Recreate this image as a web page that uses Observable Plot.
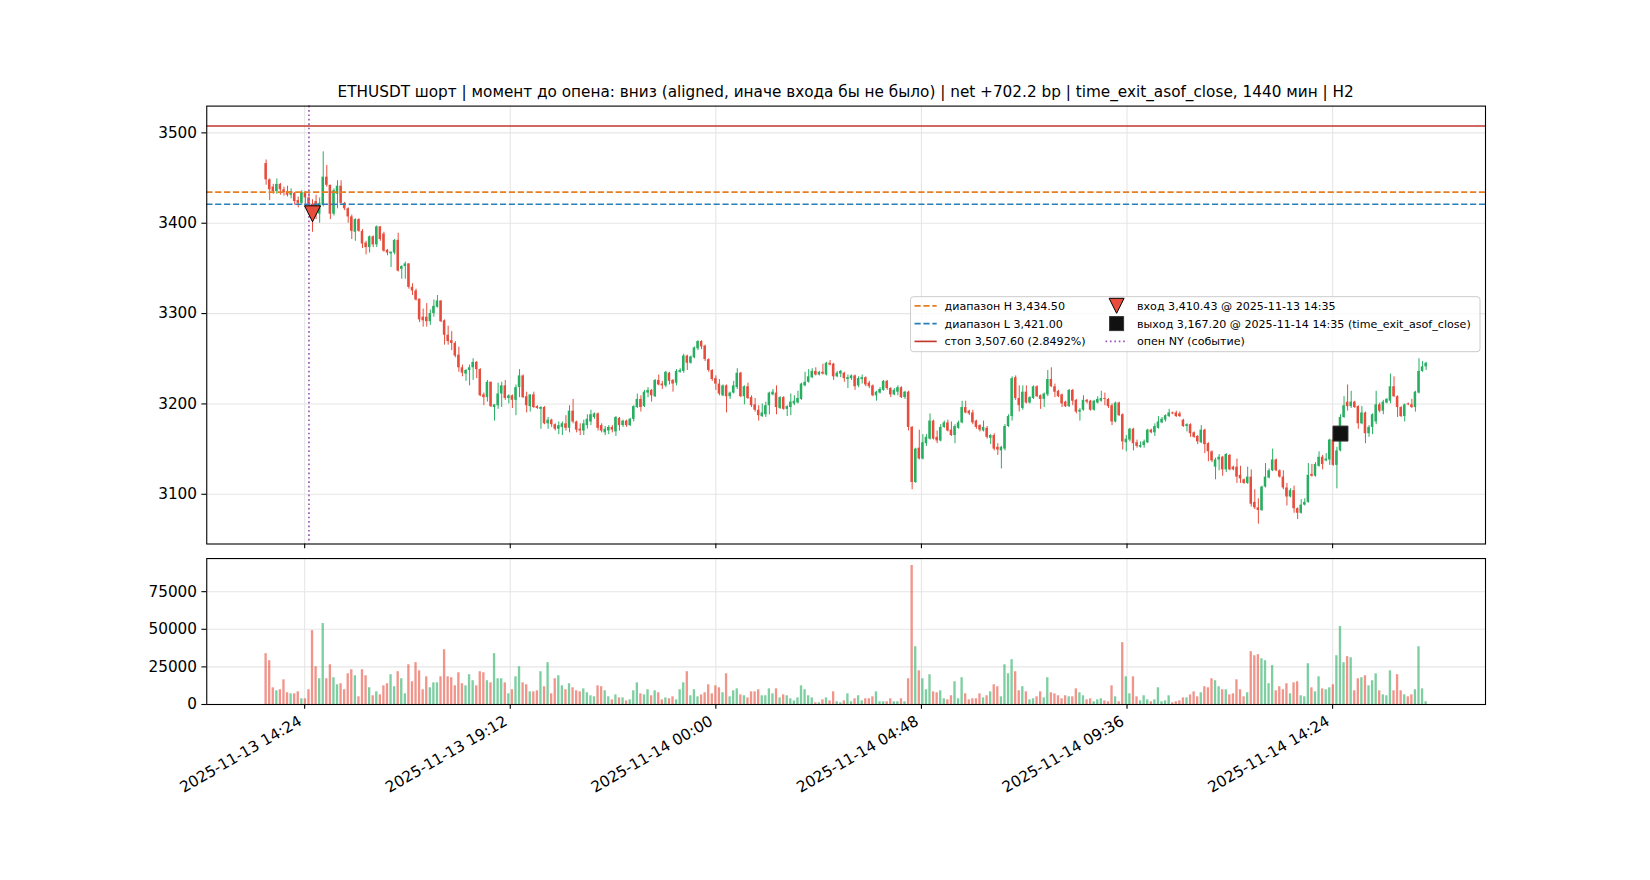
<!DOCTYPE html>
<html><head><meta charset="utf-8">
<script src="https://cdn.jsdelivr.net/npm/d3@7"></script>
<script src="https://cdn.jsdelivr.net/npm/@observablehq/plot@0.6"></script>
<style>
html,body{margin:0;padding:0;background:#fff;overflow:hidden;}
#fig{position:relative;width:1650px;height:880px;overflow:hidden;background:#fff;font-family:"DejaVu Sans",sans-serif;}
#fig > svg{position:absolute;left:0;}
</style></head><body><div id="fig"></div>
<script>
// ---------------- data ----------------
const titleText = "ETHUSDT шорт | момент до опена: вниз (aligned, иначе входа бы не было) | net +702.2 bp | time_exit_asof_close, 1440 мин | H2";
const startTime = "2025-11-13 13:30";   // first 5-minute candle
const candleMinutes = 5;
const open = [
3466,3448,3440,3435,3443,3437,3435,3431,3433,3425,
3422,3434,3428,3421,3424,3410,3420,3451,3442,3410,
3432,3441,3422,3416,3407,3390,3404,3391,3378,3373,
3385,3376,3396,3388,3370,3366,3367,3381,3349,3352,
3355,3329,3325,3316,3296,3296,3291,3300,3307,3314,
3292,3276,3270,3267,3254,3240,3233,3237,3240,3246,
3238,3210,3207,3224,3196,3198,3211,3220,3206,3209,
3204,3218,3231,3208,3197,3210,3197,3194,3196,3178,
3182,3177,3172,3174,3178,3173,3192,3180,3172,3170,
3176,3180,3185,3189,3176,3168,3170,3174,3169,3184,
3176,3181,3176,3183,3196,3205,3197,3212,3215,3208,
3226,3222,3220,3234,3226,3223,3235,3236,3253,3245,
3251,3261,3269,3264,3249,3237,3228,3222,3209,3220,
3208,3212,3218,3234,3208,3219,3207,3199,3193,3186,
3188,3198,3210,3212,3195,3207,3194,3196,3200,3201,
3205,3220,3224,3229,3236,3232,3235,3232,3245,3244,
3230,3233,3234,3227,3228,3231,3220,3227,3229,3223,
3220,3209,3212,3215,3225,3217,3210,3213,3218,3207,
3213,3174,3113,3151,3139,3156,3161,3181,3163,3159,
3174,3179,3171,3165,3173,3179,3196,3192,3190,3181,
3176,3170,3173,3162,3165,3152,3148,3150,3175,3186,
3229,3206,3195,3213,3201,3206,3219,3209,3205,3210,
3227,3219,3214,3210,3202,3197,3215,3204,3191,3193,
3204,3203,3193,3201,3203,3206,3205,3198,3180,3201,
3188,3157,3160,3172,3157,3152,3154,3157,3171,3168,
3173,3179,3182,3186,3190,3190,3189,3182,3175,3177,
3168,3164,3157,3171,3156,3147,3130,3138,3141,3127,
3143,3130,3130,3121,3116,3112,3119,3091,3085,3082,
3108,3118,3126,3138,3126,3119,3107,3097,3104,3084,
3079,3088,3091,3122,3120,3131,3141,3137,3138,3160,
3132,3148,3185,3202,3197,3202,3197,3178,3190,3167,
3174,3180,3199,3192,3201,3203,3219,3208,3196,3186,
3200,3199,3196,3212,3236,3241];
const high = [
3470,3449,3443,3449,3444,3440,3441,3438,3434,3429,
3436,3435,3434,3426,3431,3428,3479,3464,3442,3438,
3447,3447,3423,3417,3409,3405,3405,3393,3380,3386,
3386,3397,3396,3390,3371,3368,3382,3389,3353,3357,
3355,3333,3327,3316,3305,3311,3304,3315,3320,3314,
3293,3286,3280,3269,3263,3243,3238,3243,3250,3247,
3239,3212,3226,3224,3199,3223,3224,3226,3210,3210,
3221,3238,3232,3213,3210,3213,3198,3197,3197,3185,
3183,3178,3180,3180,3187,3198,3205,3181,3178,3182,
3188,3193,3190,3190,3178,3175,3176,3176,3186,3185,
3182,3182,3184,3198,3211,3209,3215,3218,3216,3227,
3232,3225,3236,3235,3227,3238,3239,3255,3254,3253,
3263,3270,3270,3265,3250,3238,3231,3227,3221,3221,
3213,3225,3239,3235,3220,3223,3209,3206,3198,3200,
3202,3213,3216,3220,3208,3208,3198,3211,3209,3214,
3223,3235,3238,3239,3240,3236,3244,3246,3248,3245,
3236,3237,3235,3232,3232,3232,3230,3232,3230,3225,
3221,3214,3218,3226,3226,3218,3217,3220,3219,3214,
3214,3175,3151,3171,3166,3166,3189,3182,3170,3177,
3181,3182,3180,3177,3181,3203,3203,3193,3193,3182,
3177,3181,3175,3166,3167,3156,3153,3177,3188,3230,
3231,3220,3220,3220,3208,3220,3220,3210,3212,3237,
3240,3222,3215,3211,3203,3216,3216,3205,3195,3209,
3205,3204,3204,3208,3214,3212,3206,3200,3202,3202,
3189,3165,3173,3173,3160,3158,3160,3172,3172,3178,
3186,3185,3188,3194,3191,3192,3191,3183,3178,3178,
3169,3165,3176,3172,3157,3148,3140,3144,3142,3145,
3144,3131,3139,3131,3117,3130,3127,3105,3095,3109,
3134,3128,3150,3139,3127,3126,3112,3106,3109,3085,
3094,3095,3134,3133,3135,3147,3143,3145,3161,3166,
3152,3188,3208,3221,3214,3203,3198,3197,3191,3176,
3189,3214,3201,3204,3206,3233,3230,3209,3197,3200,
3201,3205,3214,3250,3247,3246];
const low = [
3442,3425,3432,3432,3431,3430,3429,3427,3420,3417,
3420,3418,3416,3390,3404,3400,3418,3440,3404,3408,
3416,3420,3414,3400,3382,3380,3390,3372,3365,3367,
3373,3373,3380,3368,3364,3351,3365,3346,3338,3338,
3327,3320,3314,3290,3285,3285,3287,3296,3306,3290,
3265,3265,3259,3251,3235,3230,3225,3220,3226,3228,
3208,3198,3202,3196,3181,3194,3196,3204,3200,3195,
3187,3207,3206,3190,3191,3195,3194,3172,3177,3172,
3174,3170,3166,3165,3170,3168,3178,3168,3165,3165,
3172,3176,3183,3170,3168,3165,3166,3168,3164,3170,
3174,3174,3175,3180,3195,3191,3196,3207,3202,3207,
3220,3216,3218,3221,3213,3220,3234,3234,3237,3244,
3250,3259,3260,3247,3235,3225,3215,3209,3208,3190,
3205,3211,3216,3207,3199,3205,3196,3191,3181,3185,
3185,3188,3209,3188,3194,3193,3186,3187,3198,3200,
3204,3219,3223,3228,3231,3231,3232,3231,3242,3226,
3229,3229,3224,3217,3226,3215,3218,3222,3219,3217,
3208,3203,3211,3214,3215,3207,3209,3209,3206,3205,
3170,3105,3112,3138,3138,3153,3160,3160,3156,3158,
3173,3169,3164,3156,3172,3178,3189,3187,3177,3172,
3169,3169,3161,3155,3148,3143,3128,3148,3174,3181,
3204,3191,3193,3200,3200,3205,3207,3194,3196,3208,
3218,3207,3207,3196,3196,3196,3198,3189,3181,3192,
3200,3192,3192,3200,3202,3198,3195,3176,3179,3186,
3149,3147,3158,3148,3151,3151,3151,3156,3167,3164,
3172,3178,3180,3185,3188,3185,3185,3174,3169,3163,
3162,3155,3156,3145,3136,3135,3116,3126,3120,3124,
3126,3126,3112,3112,3111,3111,3086,3083,3067,3081,
3107,3117,3125,3125,3118,3105,3087,3096,3079,3072,
3078,3087,3090,3119,3119,3130,3127,3136,3132,3131,
3106,3147,3184,3192,3195,3195,3172,3177,3156,3163,
3166,3177,3190,3188,3200,3200,3207,3185,3185,3180,
3198,3195,3191,3211,3235,3237];
const close = [
3448,3437,3435,3443,3437,3434,3431,3435,3424,3422,
3434,3428,3421,3412,3413,3422,3451,3442,3410,3436,
3441,3422,3416,3407,3391,3404,3391,3377,3373,3385,
3376,3396,3382,3369,3367,3368,3381,3347,3352,3355,
3329,3325,3315,3293,3292,3291,3300,3308,3314,3291,
3276,3269,3267,3253,3240,3234,3237,3240,3246,3238,
3209,3207,3224,3197,3199,3211,3220,3206,3209,3204,
3218,3231,3207,3198,3210,3196,3195,3196,3178,3182,
3177,3172,3176,3178,3173,3192,3180,3171,3170,3178,
3183,3188,3189,3173,3170,3172,3174,3171,3185,3176,
3181,3176,3183,3197,3205,3196,3213,3215,3209,3226,
3221,3220,3235,3225,3222,3236,3237,3253,3245,3252,
3262,3269,3263,3249,3237,3227,3222,3211,3220,3208,
3212,3220,3234,3208,3219,3206,3198,3193,3187,3190,
3198,3212,3213,3196,3207,3194,3197,3202,3203,3206,
3222,3224,3230,3236,3232,3235,3233,3245,3243,3230,
3234,3236,3228,3229,3231,3219,3228,3229,3221,3219,
3209,3213,3216,3225,3217,3210,3215,3218,3207,3213,
3174,3113,3150,3139,3157,3163,3181,3161,3159,3174,
3179,3170,3165,3175,3179,3196,3190,3189,3179,3174,
3171,3174,3163,3165,3150,3149,3152,3175,3186,3228,
3206,3198,3213,3201,3207,3219,3208,3205,3211,3227,
3219,3213,3208,3200,3197,3215,3203,3191,3193,3204,
3202,3193,3203,3205,3206,3205,3197,3180,3201,3187,
3158,3161,3172,3156,3153,3154,3158,3171,3168,3175,
3180,3183,3187,3190,3189,3186,3186,3175,3177,3167,
3163,3158,3171,3155,3147,3137,3138,3141,3127,3144,
3127,3127,3119,3117,3112,3119,3089,3085,3082,3108,
3119,3126,3138,3126,3119,3107,3097,3104,3084,3079,
3088,3091,3121,3120,3133,3141,3133,3139,3160,3132,
3148,3185,3198,3197,3202,3196,3178,3190,3167,3174,
3188,3199,3192,3202,3205,3219,3208,3196,3186,3199,
3199,3196,3213,3236,3241,3245];
const volumeK = [ // thousands
33.8,29.1,11.1,9.1,9.8,16.4,7.8,7.1,7.1,8.4,
3.8,3.8,9.8,49.1,25.1,17.1,53.8,17.1,26.4,17.8,
13.1,13.8,9.8,20.4,23.1,19.1,5.1,23.1,19.1,11.1,
5.8,8.4,6.4,12.4,13.8,19.8,11.8,21.8,17.1,7.1,
26.4,15.1,27.8,22.4,9.8,18.4,11.1,14.4,14.4,18.4,
36.4,18.4,17.8,12.4,21.1,13.8,12.4,19.8,15.8,12.4,
21.8,21.1,15.8,14.4,33.8,17.1,17.1,14.4,7.1,9.8,
18.4,25.1,14.4,13.1,8.4,8.4,9.1,21.8,11.8,27.8,
7.1,17.1,19.1,12.4,9.8,13.8,11.1,9.1,8.4,10.4,
7.8,5.8,5.1,12.4,11.8,9.1,5.1,3.1,6.4,4.4,
4.4,2.4,3.1,9.1,14.4,7.1,6.4,9.8,5.8,9.1,
7.8,3.1,4.4,3.8,5.1,3.1,9.8,14.4,21.8,5.8,
9.8,5.1,6.4,7.8,13.1,7.1,12.4,11.1,7.8,20.4,
5.1,9.1,10.4,6.4,5.8,4.4,8.4,8.4,9.8,5.8,
5.8,10.4,7.1,10.4,4.4,6.4,5.8,3.8,2.4,4.4,
12.4,9.8,5.8,4.4,1.1,1.1,3.1,4.4,2.4,8.4,
1.8,1.1,2.4,7.1,1.8,3.8,5.8,2.4,3.8,3.8,
5.1,8.4,1.8,1.8,1.8,3.8,1.8,1.8,3.8,1.8,
17.1,92.4,38.4,22.4,17.1,9.8,19.8,8.4,7.8,9.1,
3.8,3.1,5.8,15.1,3.8,17.8,7.1,3.1,3.8,3.8,
7.1,4.4,5.8,8.4,13.1,11.8,5.1,26.4,20.4,29.8,
21.8,9.1,11.8,8.4,3.1,3.8,5.1,8.4,4.4,17.8,
7.8,7.1,5.8,3.8,5.8,5.1,5.1,10.4,7.8,5.8,
3.1,3.8,1.8,3.1,3.8,2.4,1.8,12.4,5.1,1.8,
41.1,18.4,7.1,18.4,5.1,2.4,5.8,3.1,1.8,3.1,
11.1,1.8,2.4,5.8,1.1,1.8,2.4,4.4,4.4,6.4,
8.4,5.1,7.8,11.8,11.1,17.1,15.8,11.8,9.8,9.8,
6.4,7.1,16.4,9.8,5.1,7.8,35.1,32.4,33.1,30.4,
29.1,13.8,25.8,9.1,11.8,9.8,13.8,7.1,14.4,15.1,
5.8,5.1,27.1,11.1,8.4,18.4,10.4,9.8,11.1,13.1,
32.4,51.8,27.8,31.8,31.1,9.1,17.1,17.8,19.1,12.4,
15.8,20.4,9.1,6.4,5.8,22.4,9.1,19.8,9.1,6.4,
5.1,6.4,9.8,38.4,10.4,1.8];

const xTickLabels = ["2025-11-13 14:24","2025-11-13 19:12","2025-11-14 00:00","2025-11-14 04:48","2025-11-14 09:36","2025-11-14 14:24"];
const priceTicks = [3100, 3200, 3300, 3400, 3500];
const volumeTicks = [0, 25000, 50000, 75000];

const rangeH = 3434.50, rangeL = 3421.00, stopLevel = 3507.60, stopPct = 2.8492;
const entryTime = "2025-11-13 14:35", entryPrice = 3410.43;
const exitTime = "2025-11-14 14:35", exitPrice = 3167.20, exitReason = "time_exit_asof_close";
const nyOpenTime = "2025-11-13 14:30";

// ---------------- build ----------------
const parse = d3.utcParse("%Y-%m-%d %H:%M");
const STEP = candleMinutes * 60000;
const t0 = parse(startTime);
const candles = close.map((c, i) => ({
  date: new Date(+t0 + i * STEP),
  open: open[i], close: c,
  high: Math.max(high[i], open[i], c),
  low: Math.min(low[i], open[i], c),
  volume: volumeK[i] * 1000,
  up: c >= open[i]
}));
const UP = "#27ae60", DOWN = "#e74c3c", GRID = "#e6e6e6";
const ORANGE = "#e67e22", BLUE = "#2980b9", STOP = "#c0392b", PURPLE = "#9b59b6";
const BODY = 0.7 * STEP, VBAR = 0.65 * STEP;

// matplotlib-like autoscale (5% margins)
const xLo = +candles[0].date - BODY / 2, xHi = +candles[candles.length - 1].date + BODY / 2;
const xPad = 0.05 * (xHi - xLo);
const xDomain = [new Date(xLo - xPad), new Date(xHi + xPad)];
const yLo = d3.min(candles, d => d.low), yHi = Math.max(d3.max(candles, d => d.high), stopLevel);
const yPad = 0.05 * (yHi - yLo);
const yDomain = [yLo - yPad, yHi + yPad];
const vDomain = [0, d3.max(candles, d => d.volume) * 1.05];

const tickDates = xTickLabels.map(parse);
const entry = {date: parse(entryTime), price: entryPrice};
const exit = {date: parse(exitTime), price: exitPrice};
const nyOpen = parse(nyOpenTime);

const triDown = {draw(ctx, size) { const r = Math.sqrt(size / Math.PI); ctx.moveTo(-r, -r); ctx.lineTo(r, -r); ctx.lineTo(0, r); ctx.closePath(); }};
const square = {draw(ctx, size) { const r = Math.sqrt(size / Math.PI); ctx.rect(-r, -r, 2 * r, 2 * r); }};

const W = 1650, ML = 206.25, MR = 165, TICK = 4.86, FS = 15.28;
const style = {fontFamily: "DejaVu Sans", fontSize: FS + "px", color: "black", background: "transparent", overflow: "visible"};

const mainPlot = Plot.plot({
  width: W, height: 550, marginLeft: ML, marginRight: MR, marginTop: 105.6, marginBottom: 6.5,
  style,
  x: {type: "utc", domain: xDomain, label: null},
  y: {domain: yDomain, label: null},
  color: {type: "identity"},
  marks: [
    Plot.ruleX(tickDates, {stroke: GRID, strokeWidth: 1.1}),
    Plot.ruleY(priceTicks, {stroke: GRID, strokeWidth: 1.1}),
    Plot.ruleX(candles, {x: "date", y1: "low", y2: "high", stroke: d => d.up ? UP : DOWN, strokeWidth: 1}),
    Plot.rect(candles, {x1: d => new Date(+d.date - BODY / 2), x2: d => new Date(+d.date + BODY / 2), y1: "open", y2: "close", fill: d => d.up ? UP : DOWN}),
    Plot.ruleY([rangeH], {stroke: ORANGE, strokeWidth: 1.67, strokeDasharray: "6.2,2.7"}),
    Plot.ruleY([rangeL], {stroke: BLUE, strokeWidth: 1.67, strokeDasharray: "6.2,2.7"}),
    Plot.ruleY([stopLevel], {stroke: STOP, strokeWidth: 1.67}),
    Plot.ruleX([nyOpen], {stroke: PURPLE, strokeWidth: 1.67, strokeDasharray: "1.67,2.75"}),
    Plot.dot([entry], {x: "date", y: "price", symbol: triDown, r: 8, fill: DOWN, stroke: "black", strokeWidth: 1}),
    Plot.dot([exit], {x: "date", y: "price", symbol: square, r: 7.5, fill: "#111111", stroke: "#333333", strokeWidth: 1}),
    Plot.axisY({ticks: priceTicks, tickFormat: "d", tickSize: TICK, tickPadding: TICK, fontSize: FS, label: null, strokeWidth: 1.1}),
    Plot.axisX({ticks: tickDates, tickFormat: () => "", tickSize: TICK, label: null, strokeWidth: 1.1}),
    Plot.frame({stroke: "black", strokeWidth: 1.1})
  ]
});
mainPlot.style.top = "0px";

const volPlot = Plot.plot({
  width: W, height: 330, marginLeft: ML, marginRight: MR, marginTop: 8.05, marginBottom: 176,
  style,
  x: {type: "utc", domain: xDomain, label: null},
  y: {domain: vDomain, label: null},
  color: {type: "identity"},
  marks: [
    Plot.ruleX(tickDates, {stroke: GRID, strokeWidth: 1.1}),
    Plot.ruleY(volumeTicks, {stroke: GRID, strokeWidth: 1.1}),
    Plot.rect(candles, {x1: d => new Date(+d.date - VBAR / 2), x2: d => new Date(+d.date + VBAR / 2), y1: d => 0, y2: "volume", fill: d => d.up ? UP : DOWN, fillOpacity: 0.6}),
    Plot.axisY({ticks: volumeTicks, tickFormat: "d", tickSize: TICK, tickPadding: TICK, fontSize: FS, label: null, strokeWidth: 1.1}),
    Plot.axisX({ticks: tickDates, tickFormat: () => "", tickSize: TICK, label: null, strokeWidth: 1.1}),
    Plot.text(xTickLabels, {x: d => parse(d), text: d => d, frameAnchor: "bottom", rotate: -30, textAnchor: "end", lineAnchor: "bottom", dx: -1.83, dy: 19.75, fontSize: FS, fill: "black"}),
    Plot.frame({stroke: "black", strokeWidth: 1.1})
  ]
});
volPlot.style.top = "550px";

const fig = document.getElementById("fig");
fig.appendChild(mainPlot);
fig.appendChild(volPlot);

// ---------------- title + legend overlay ----------------
const ov = d3.select(fig).append("svg").attr("width", W).attr("height", 880)
  .style("top", "0px").style("pointer-events", "none")
  .attr("font-family", "DejaVu Sans");
ov.append("text").attr("x", (ML + (W - MR)) / 2).attr("y", 97.3).attr("text-anchor", "middle")
  .attr("font-size", FS).attr("fill", "black").text(titleText);

const f2 = d3.format(",.2f");
const LFS = 11.1;
const lg = ov.append("g");
lg.append("rect").attr("x", 910.5).attr("y", 296.7).attr("width", 569.5).attr("height", 55)
  .attr("rx", 3).attr("fill", "white").attr("fill-opacity", 0.8).attr("stroke", "#cccccc").attr("stroke-width", 1);
const rows = [305.8, 323.6, 341.4];
const col1 = [
  {label: `диапазон H ${f2(rangeH)}`, stroke: ORANGE, dash: "6.2,2.7"},
  {label: `диапазон L ${f2(rangeL)}`, stroke: BLUE, dash: "6.2,2.7"},
  {label: `стоп ${f2(stopLevel)} (${stopPct.toFixed(4)}%)`, stroke: STOP, dash: null}
];
col1.forEach((d, i) => {
  lg.append("line").attr("x1", 914.5).attr("x2", 936.7).attr("y1", rows[i]).attr("y2", rows[i])
    .attr("stroke", d.stroke).attr("stroke-width", 1.67).attr("stroke-dasharray", d.dash);
  lg.append("text").attr("x", 944.5).attr("y", rows[i] + 4).attr("font-size", LFS).attr("fill", "black").text(d.label);
});
const cx = 1116.6;
lg.append("path").attr("d", `M${cx - 7.5},${rows[0] - 7.5}L${cx + 7.5},${rows[0] - 7.5}L${cx},${rows[0] + 7.5}Z`)
  .attr("fill", DOWN).attr("stroke", "black").attr("stroke-width", 1);
lg.append("rect").attr("x", cx - 7).attr("y", rows[1] - 7).attr("width", 14).attr("height", 14)
  .attr("fill", "#111111").attr("stroke", "#333333").attr("stroke-width", 1);
lg.append("line").attr("x1", 1105.5).attr("x2", 1127.7).attr("y1", rows[2]).attr("y2", rows[2])
  .attr("stroke", PURPLE).attr("stroke-width", 1.67).attr("stroke-dasharray", "1.67,2.75");
const col2 = [
  `вход ${f2(entryPrice)} @ ${entryTime}`,
  `выход ${f2(exitPrice)} @ ${exitTime} (${exitReason})`,
  "опен NY (событие)"
];
col2.forEach((t, i) => lg.append("text").attr("x", 1137).attr("y", rows[i] + 4).attr("font-size", LFS).attr("fill", "black").text(t));
</script></body></html>
